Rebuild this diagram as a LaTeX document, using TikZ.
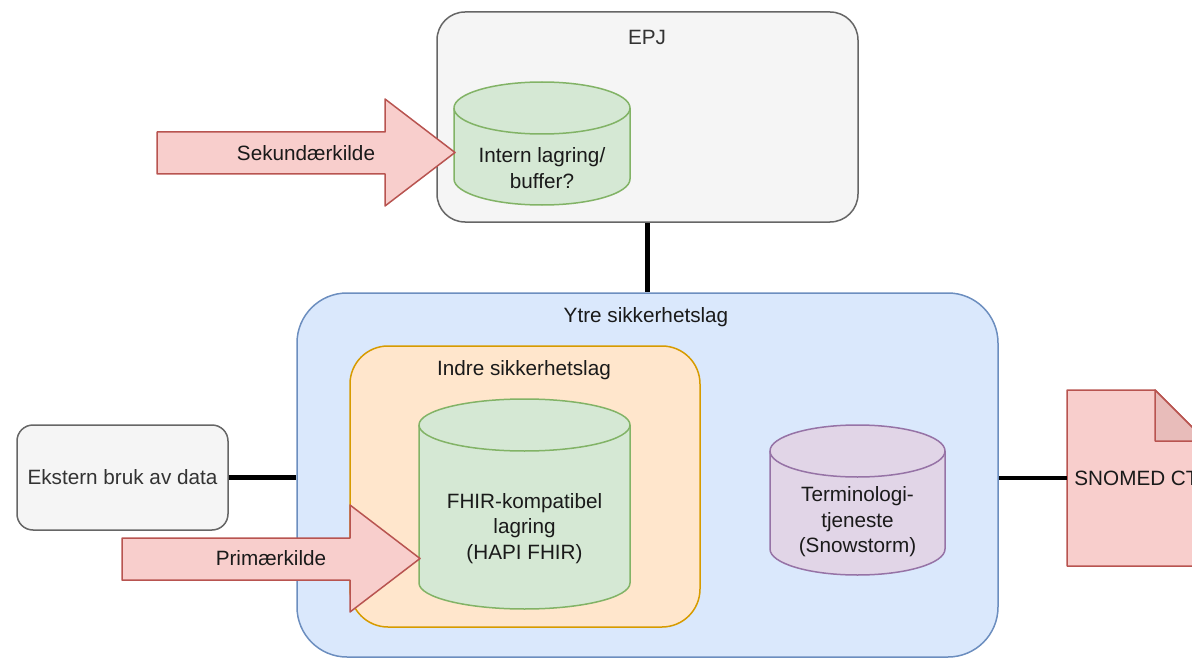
\documentclass[tikz,border=0pt]{standalone}
\usepackage{fontspec}
\setmainfont{Liberation Sans}
\usetikzlibrary{calc}

\definecolor{grayfill}{HTML}{F5F5F5}
\definecolor{graystroke}{HTML}{666666}
\definecolor{graytext}{HTML}{333333}
\definecolor{greenfill}{HTML}{D5E8D4}
\definecolor{greenstroke}{HTML}{82B366}
\definecolor{bluefill}{HTML}{DAE8FC}
\definecolor{bluestroke}{HTML}{6C8EBF}
\definecolor{orangefill}{HTML}{FFE6CC}
\definecolor{orangestroke}{HTML}{D79B00}
\definecolor{purplefill}{HTML}{E1D5E7}
\definecolor{purplestroke}{HTML}{9673A6}
\definecolor{redfill}{HTML}{F8CECC}
\definecolor{redstroke}{HTML}{B85450}
\definecolor{folddark}{HTML}{E8BCBA}
\definecolor{inktext}{HTML}{1A1A1A}

% Database cylinder: style, left, top, right, bottom, ellipse half-height
\newcommand\dbcylinder[6]{%
  \pgfmathsetmacro\cylrx{(#4-#2)/2}%
  \filldraw[#1] (#2,#3+#6) -- (#2,#5-#6)
    arc[start angle=180,end angle=360,x radius=\cylrx pt,y radius=#6pt]
    -- (#4,#3+#6)
    arc[start angle=0,end angle=180,x radius=\cylrx pt,y radius=#6pt] -- cycle;
  \draw[#1] (#2,#3+#6)
    arc[start angle=180,end angle=360,x radius=\cylrx pt,y radius=#6pt];
}

\begin{document}
\begin{tikzpicture}[x=1pt,y=-1pt,
  every node/.style={font=\fontsize{20.7}{25.5}\selectfont, text=inktext,
    inner sep=0pt, align=center},
  shapeline/.style={line width=1.5pt, line join=round},
  grayzone/.style={shapeline, draw=graystroke, fill=grayfill},
  bluezone/.style={shapeline, draw=bluestroke, fill=bluefill},
  orangezone/.style={shapeline, draw=orangestroke, fill=orangefill},
  greendb/.style={shapeline, draw=greenstroke, fill=greenfill},
  purpledb/.style={shapeline, draw=purplestroke, fill=purplefill},
  redshape/.style={shapeline, draw=redstroke, fill=redfill},
  foldshape/.style={shapeline, draw=redstroke, fill=folddark},
  graylabel/.style={text=graytext},
  link/.style={line width=4.5pt, draw=black},
]
\useasboundingbox (0,0) rectangle (1192,658);
\clip (0,0) rectangle (1192,658);

% Security layers
\node[bluezone, rounded corners=50pt, minimum width=701pt, minimum height=364pt]
  (ytre) at (647.5,475) {};
\node (ytretitle) at (646,317) {Ytre sikkerhetslag};
\node[orangezone, rounded corners=38pt, minimum width=350pt, minimum height=281pt]
  (indre) at (525,486.5) {};
\node (indretitle) at (524,370) {Indre sikkerhetslag};

% EPJ system
\node[grayzone, rounded corners=28pt, minimum width=421pt, minimum height=210pt]
  (epj) at (647.5,117) {};
\node[graylabel] (epjtitle) at (647,37) {EPJ};

% External consumer
\node[grayzone, rounded corners=16pt, minimum width=211pt, minimum height=105pt,
  graylabel] (ekstern) at (122.5,477.5) {Ekstern bruk av data};

% Storage cylinders
\dbcylinder{greendb}{454}{82}{630}{205}{26}
\node[minimum width=176pt] (intern) at (542,168) {Intern lagring/\\buffer?};
\dbcylinder{greendb}{419}{399}{630}{609}{26}
\node[minimum width=211pt] (fhir) at (524.5,528.5) {FHIR-kompatibel\\lagring\\(HAPI FHIR)};
\dbcylinder{purpledb}{770}{425}{945}{575}{26}
\node[minimum width=175pt] (termino) at (857.5,522) {Terminologi-\\tjeneste\\(Snowstorm)};

% SNOMED CT document with folded corner
\filldraw[redshape] (1067,390) -- (1155,390) -- (1206,441) -- (1206,566)
  -- (1067,566) -- cycle;
\filldraw[foldshape] (1155,390) -- (1155,441) -- (1206,441) -- cycle;
\node[minimum width=139pt, minimum height=176pt] (snomed) at (1136.5,478) {SNOMED CT};

% Connections
\draw[link] (epj.south) -- (epj.south |- ytre.north);
\draw[link] (ekstern.east) -- (ekstern.east -| ytre.west);
\draw[link] (ytre.east |- snomed.west) -- (snomed.west);

% Data source arrows
\filldraw[redshape] (157,132) -- (385,132) -- (385,99) -- (455,152.5)
  -- (385,206) -- (385,174) -- (157,174) -- cycle;
\node (sekundaer) at (306,153) {Sekundærkilde};
\filldraw[redshape] (122,538) -- (350,538) -- (350,505) -- (420,558.5)
  -- (350,612) -- (350,580) -- (122,580) -- cycle;
\node (primaer) at (271,558) {Primærkilde};
\end{tikzpicture}
\end{document}
